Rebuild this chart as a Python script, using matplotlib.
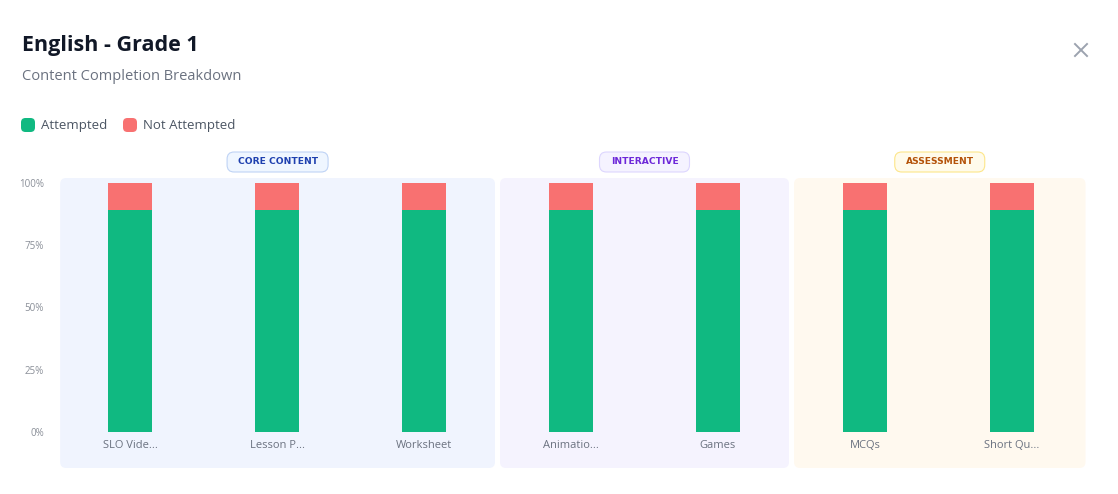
import matplotlib
matplotlib.use("Agg")
import matplotlib.pyplot as plt
from matplotlib.patches import FancyBboxPatch
from matplotlib.lines import Line2D

# ---- data ----
categories = ["SLO Vide...", "Lesson P...", "Worksheet", "Animatio...", "Games", "MCQs", "Short Qu..."]
attempted = [89, 89, 89, 89, 89, 89, 89]
not_attempted = [11, 11, 11, 11, 11, 11, 11]
group_names = ["CORE CONTENT", "INTERACTIVE", "ASSESSMENT"]
group_sizes = [3, 2, 2]
y_ticks = [0, 25, 50, 75, 100]
y_tick_labels = ["0%", "25%", "50%", "75%", "100%"]

# ---- styles ----
GREEN = "#10b981"
RED = "#f87171"
panel_fill = ["#f0f4fe", "#f5f3fe", "#fff9ef"]
badge_fill = ["#eff6ff", "#f5f3ff", "#fffbeb"]
badge_edge = ["#bfd3f5", "#ddd6fe", "#fde68a"]
badge_text = ["#1e40af", "#6d28d9", "#b45309"]
badge_w_px = [101, 90, 90]

W, H = 1118, 494
plt.rcParams['font.family'] = ['Open Sans', 'DejaVu Sans']
fig = plt.figure(figsize=(W / 100, H / 100), dpi=100)

def fx(px):
    return px / W

def fy(py):
    return 1 - py / H

ax_left, ax_right = 56.5, 1085.5
ax_top, ax_bot = 178, 432
ax = fig.add_axes([fx(ax_left), fy(ax_bot), fx(ax_right - ax_left), (ax_bot - ax_top) / H])
ax.set_xlim(-0.5, len(categories) - 0.5)
ax.set_ylim(0, 102)
for s in ax.spines.values():
    s.set_visible(False)

# px per data unit
xu = (ax_right - ax_left) / len(categories)
yu = (ax_bot - ax_top) / 102.0
bottom_ext = -(468 - ax_bot) / yu

# panels
start = 0
gap = 2.5 / xu
for gi, n in enumerate(group_sizes):
    x0 = start - 0.5 + (gap if gi > 0 else 0.025)
    x1 = start + n - 0.5 - (gap if gi < len(group_sizes) - 1 else 0.0)
    r = 6 / xu
    p = FancyBboxPatch((x0, bottom_ext), x1 - x0, 102 - bottom_ext,
                       boxstyle=f"round,pad=0,rounding_size={r}",
                       mutation_aspect=xu / yu,
                       fc=panel_fill[gi], ec="none", clip_on=False, zorder=0)
    ax.add_patch(p)
    # badge
    cx_data = (x0 + x1) / 2
    cx_px = ax_left + (cx_data + 0.5) * xu
    bw = badge_w_px[gi]
    bh = 20
    b = FancyBboxPatch((fx(cx_px - bw / 2), fy(172)), fx(bw), bh / H,
                       boxstyle=f"round,pad=0,rounding_size={fx(7)}",
                       mutation_aspect=W / H, transform=fig.transFigure,
                       fc=badge_fill[gi], ec=badge_edge[gi], lw=0.8)
    fig.patches.append(b)
    fig.text(fx(cx_px), fy(162), group_names[gi], ha="center", va="center",
             fontsize=6.6, fontweight="bold", color=badge_text[gi],
             family=["DejaVu Sans"])
    start += n

x = list(range(len(categories)))
ax.bar(x, attempted, width=0.3, color=GREEN, zorder=2)
ax.bar(x, not_attempted, width=0.3, bottom=attempted, color=RED, zorder=2)

ax.set_yticks(y_ticks)
ax.set_yticklabels(y_tick_labels)
ax.tick_params(axis="y", length=0, pad=9, labelsize=7, labelcolor="#8a8f98")
ax.set_xticks(x)
ax.set_xticklabels(categories)
ax.tick_params(axis="x", length=0, pad=6, labelsize=8, labelcolor="#6b7280")

# title etc
fig.text(fx(22), fy(46), "English - Grade 1", fontsize=15.5, fontweight="bold",
         color="#111827", ha="left", va="center")
fig.text(fx(22), fy(77), "Content Completion Breakdown", fontsize=10.5,
         color="#6b7280", ha="left", va="center")

# legend
for lx, col, lab in [(21, GREEN, "Attempted"), (123, RED, "Not Attempted")]:
    sq = FancyBboxPatch((fx(lx), fy(132)), fx(14), 14 / H,
                        boxstyle="round,pad=0,rounding_size=0.004",
                        mutation_aspect=W / H,
                        transform=fig.transFigure, fc=col, ec="none")
    fig.patches.append(sq)
    fig.text(fx(lx + 20), fy(125), lab, fontsize=9.5, color="#4b5563",
             ha="left", va="center")

# close icon
for (a, b), (c, d) in [((1075, 44), (1087, 56)), ((1075, 56), (1087, 44))]:
    fig.lines.append(Line2D([fx(a), fx(c)], [fy(b), fy(d)], transform=fig.transFigure,
                            color="#9ca3af", lw=1.4))

fig.savefig("out.png", dpi=100)
